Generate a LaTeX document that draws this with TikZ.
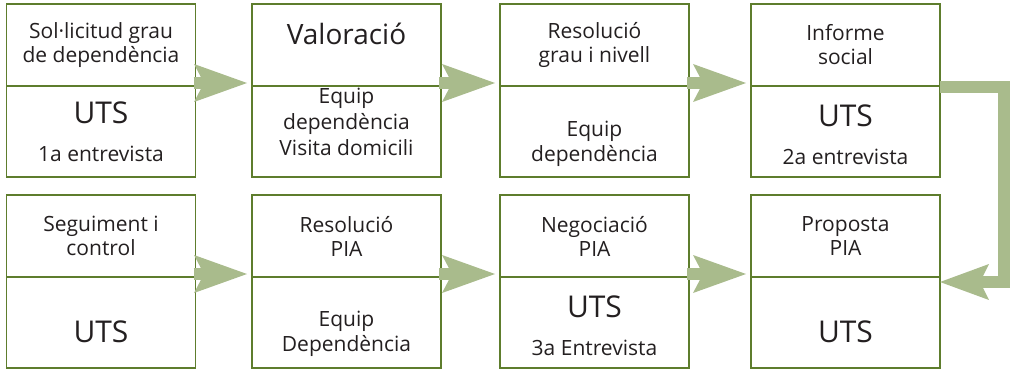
\documentclass[tikz,border=0pt]{standalone}
\usepackage{fontspec}
\setmainfont{Open Sans}
\usetikzlibrary{positioning,arrows.meta}
\definecolor{boxgreen}{RGB}{94,125,45}
\definecolor{arrowgreen}{RGB}{169,187,140}
\definecolor{ink}{RGB}{35,31,32}

\begin{document}
\begin{tikzpicture}
    [
        x=1pt, y=1pt,
        part/.style={rectangle, draw=boxgreen, line width=1.8pt, minimum width=189pt, inner sep=0pt, outer sep=0pt, align=center, text=ink, font=\fontsize{21}{24}\selectfont},
        head/.style={part, minimum height=82pt},
        body/.style={part, minimum height=91pt},
        txt/.style={inner sep=0pt, align=center, text=ink, font=\fontsize{21}{24}\selectfont},
        big/.style={font=\fontsize{30}{34}\selectfont},
        flow/.style={draw=arrowgreen, line width=12pt, -{Stealth[length=53pt, width=38pt, inset=10pt, line width=0pt]}, shorten <=-2pt, shorten >=5pt},
        back/.style={draw=arrowgreen, line width=12pt, -{Stealth[length=49pt, width=36pt, inset=9pt, line width=0pt]}}
    ]
    \useasboundingbox (0,0) rectangle (1011,370);
    % top row
    \node[head] (t1) at (101,325) {Sol·licitud grau\\de dependència};
    \node[body, below=0pt of t1] (b1) {};
    \node[txt, below=16pt of b1.north] (l1) {{\fontsize{30}{34}\selectfont UTS}\\[14pt]1a entrevista};
    \node[head, text height=20pt, text depth=20pt, font=\fontsize{28}{32}\selectfont] (t2) at (346.5,325) {Valoració};
    \node[body, below=0pt of t2] (b2) {};
    \node[txt, below=2pt of b2.north, font=\fontsize{21}{26}\selectfont] (l2) {Equip\\dependència\\Visita domicili};
    \node[head] (t3) at (594.5,325) {Resolució\\grau i nivell};
    \node[body, below=0pt of t3] (b3) {};
    \node[txt, below=35pt of b3.north, font=\fontsize{21}{24.5}\selectfont] (l3) {Equip\\dependència};
    \node[head] (t4) at (845.5,325) {Informe\\social};
    \node[body, below=0pt of t4] (b4) {};
    \node[txt, below=19pt of b4.north] (l4) {{\fontsize{30}{34}\selectfont UTS}\\[14pt]2a entrevista};
    % bottom row
    \node[head] (t5) at (101,134) {Seguiment i\\control};
    \node[body, below=0pt of t5] (b5) {};
    \node[txt, big, below=44pt of b5.north] (l5) {UTS};
    \node[head] (t6) at (346.5,134) {Resolució\\PIA};
    \node[body, below=0pt of t6] (b6) {};
    \node[txt, below=34pt of b6.north, font=\fontsize{21}{25}\selectfont] (l6) {Equip\\Dependència};
    \node[head] (t7) at (594.5,134) {Negociació\\PIA};
    \node[body, below=0pt of t7] (b7) {};
    \node[txt, below=19pt of b7.north] (l7) {{\fontsize{30}{34}\selectfont UTS}\\[14pt]3a Entrevista};
    \node[head] (t8) at (845.5,134) {Proposta\\PIA};
    \node[body, below=0pt of t8] (b8) {};
    \node[txt, big, below=44pt of b8.north] (l8) {UTS};
    % arrows
    \draw[flow] ([yshift=3pt]t1.south east) -- ([yshift=3pt]t2.south west);
    \draw[flow] ([yshift=3pt]t2.south east) -- ([yshift=3pt]t3.south west);
    \draw[flow] ([yshift=3pt]t3.south east) -- ([yshift=3pt]t4.south west);
    \draw[flow] ([yshift=3pt]t5.south east) -- ([yshift=3pt]t6.south west);
    \draw[flow] ([yshift=3pt]t6.south east) -- ([yshift=3pt]t7.south west);
    \draw[flow] ([yshift=3pt]t7.south east) -- ([yshift=3pt]t8.south west);
    \draw[back] ([yshift=-1pt]t4.south east) -- ++(64,0) |- ([yshift=-5pt]t8.south east);
\end{tikzpicture}
\end{document}
